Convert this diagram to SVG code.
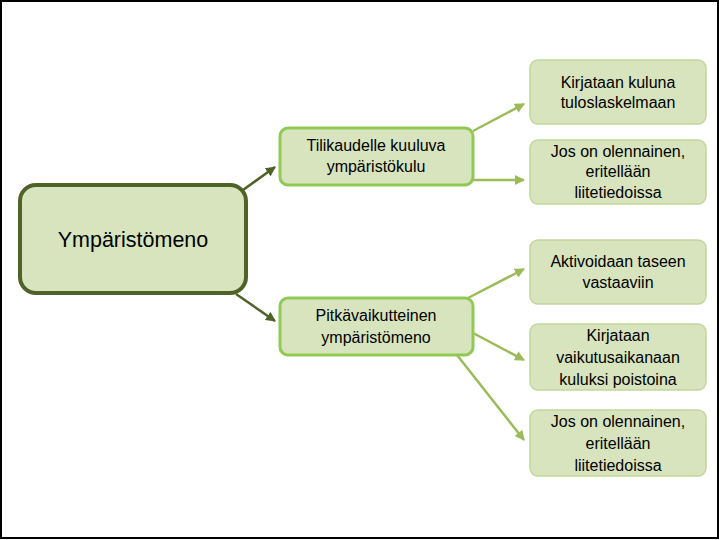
<svg xmlns="http://www.w3.org/2000/svg" width="720" height="540" viewBox="0 0 720 540">
<defs>
<style>
.t{font-family:"Liberation Sans",Arial,sans-serif;font-size:16px;fill:#000;text-anchor:middle}
.main{fill:#D7E4BD;stroke:#4F6228;stroke-width:4}
.mid{fill:#D7E4BD;stroke:#92C955;stroke-width:3}
.leaf{fill:#D7E4BD;stroke:#C3D69B;stroke-width:1.5}
.cd{stroke:#4F6228;stroke-width:2.5;fill:none}
.cl{stroke:#9BBB59;stroke-width:2.5;fill:none}
</style>
<marker id="ad" viewBox="0 0 10 10" refX="9" refY="5" markerWidth="4" markerHeight="4" orient="auto" markerUnits="strokeWidth"><path d="M0,0 L10,5 L0,10 z" fill="#4F6228"/></marker>
<marker id="al" viewBox="0 0 10 10" refX="9" refY="5" markerWidth="4" markerHeight="4" orient="auto" markerUnits="strokeWidth"><path d="M0,0 L10,5 L0,10 z" fill="#9BBB59"/></marker>
</defs>
<rect x="0" y="0" width="720" height="540" fill="#fff"/>
<rect x="1" y="1" width="717" height="537" fill="none" stroke="#000" stroke-width="2"/>
<g id="connectors">
<line class="cd" x1="243" y1="190" x2="275" y2="167" marker-end="url(#ad)"/>
<line class="cd" x1="236" y1="294" x2="275" y2="321" marker-end="url(#ad)"/>
<line class="cl" x1="473" y1="131" x2="524" y2="104" marker-end="url(#al)"/>
<line class="cl" x1="473" y1="180" x2="524" y2="180" marker-end="url(#al)"/>
<line class="cl" x1="468" y1="298" x2="524" y2="269" marker-end="url(#al)"/>
<line class="cl" x1="473" y1="333" x2="524" y2="360" marker-end="url(#al)"/>
<line class="cl" x1="457" y1="355" x2="524" y2="440" marker-end="url(#al)"/>
</g>
<g id="n-main">
<rect class="main" x="20" y="185" width="226" height="108" rx="16"/>
<text class="t" x="133" y="247" style="font-size:21.5px">Ympäristömeno</text>
</g>
<g id="n-mid1">
<rect class="mid" x="280" y="128" width="193" height="57" rx="8"/>
<text class="t" x="376" y="151">Tilikaudelle kuuluva</text>
<text class="t" x="376" y="172">ympäristökulu</text>
</g>
<g id="n-mid2">
<rect class="mid" x="280" y="298" width="193" height="57" rx="8"/>
<text class="t" x="376" y="321">Pitkävaikutteinen</text>
<text class="t" x="376" y="343">ympäristömeno</text>
</g>
<g id="n-r1">
<rect class="leaf" x="530" y="60" width="176" height="64" rx="8"/>
<text class="t" x="618" y="88">Kirjataan kuluna</text>
<text class="t" x="618" y="108">tuloslaskelmaan</text>
</g>
<g id="n-r2">
<rect class="leaf" x="530" y="140" width="176" height="64" rx="8"/>
<text class="t" x="618" y="157">Jos on olennainen,</text>
<text class="t" x="618" y="177">eritellään</text>
<text class="t" x="618" y="198">liitetiedoissa</text>
</g>
<g id="n-r3">
<rect class="leaf" x="530" y="240" width="176" height="64" rx="8"/>
<text class="t" x="618" y="267">Aktivoidaan taseen</text>
<text class="t" x="618" y="288">vastaaviin</text>
</g>
<g id="n-r4">
<rect class="leaf" x="530" y="324" width="176" height="66" rx="8"/>
<text class="t" x="618" y="341">Kirjataan</text>
<text class="t" x="618" y="363">vaikutusaikanaan</text>
<text class="t" x="618" y="385">kuluksi poistoina</text>
</g>
<g id="n-r5">
<rect class="leaf" x="530" y="410" width="176" height="66" rx="8"/>
<text class="t" x="618" y="427">Jos on olennainen,</text>
<text class="t" x="618" y="449">eritellään</text>
<text class="t" x="618" y="471">liitetiedoissa</text>
</g>
</svg>
